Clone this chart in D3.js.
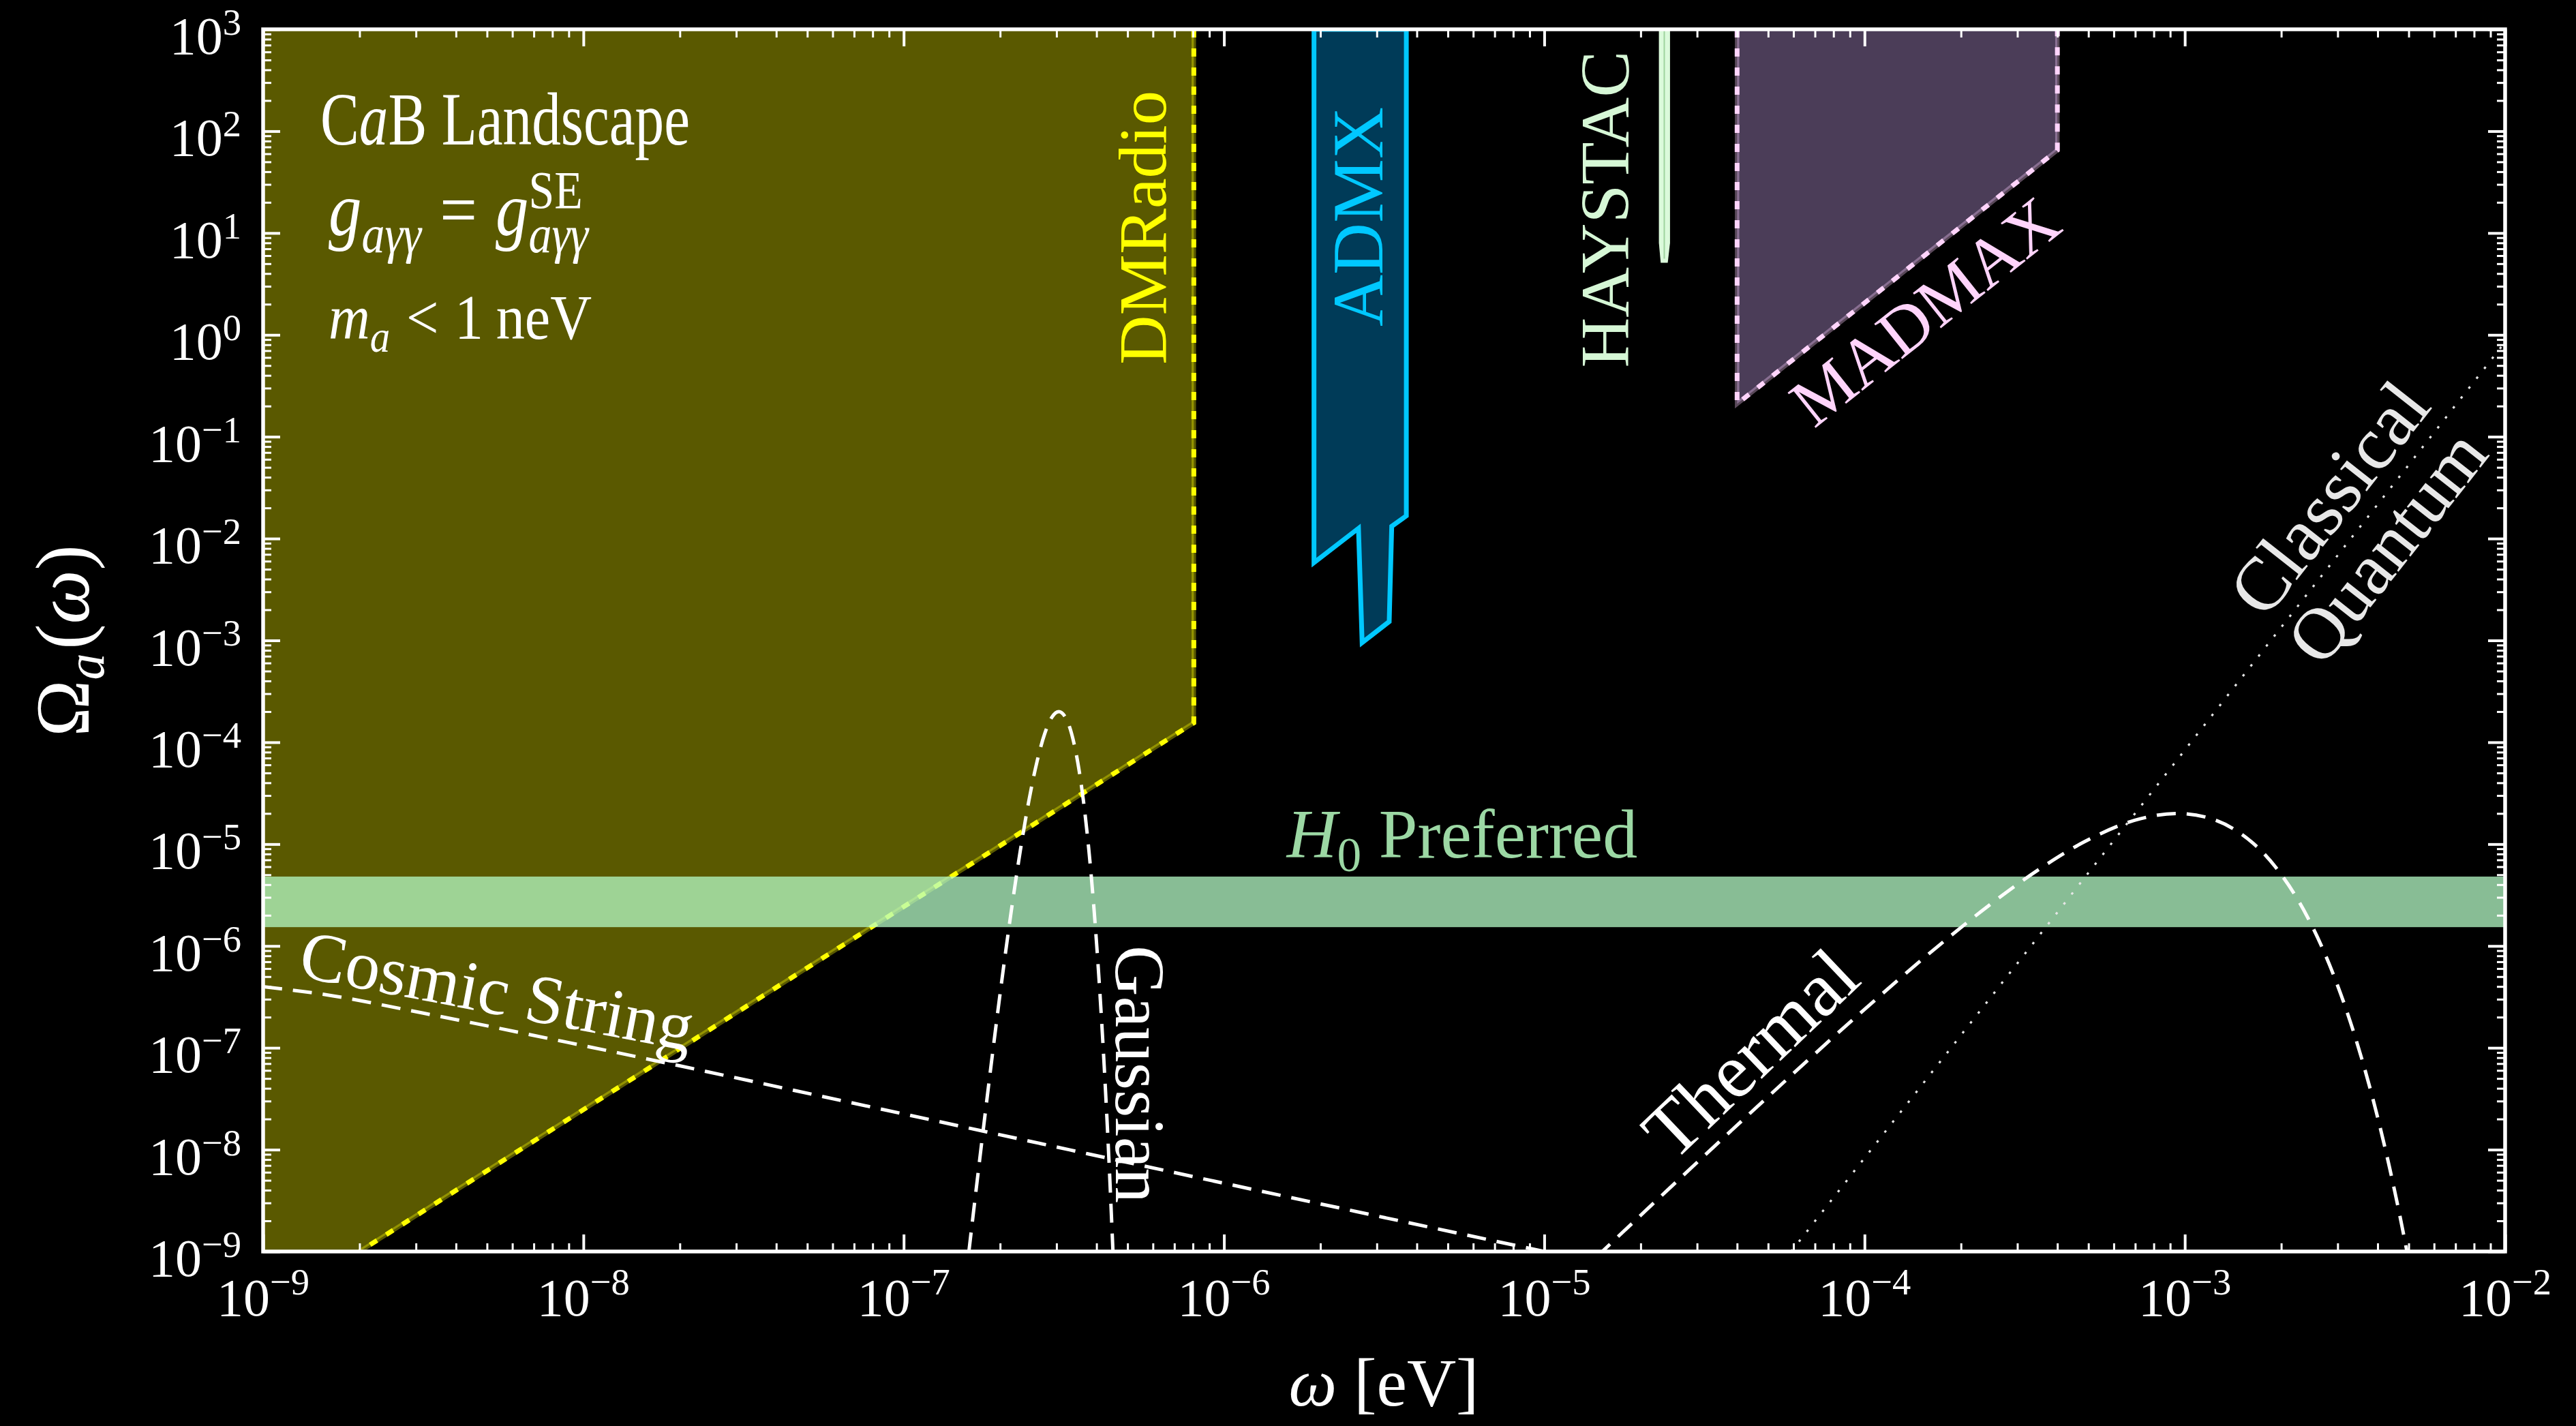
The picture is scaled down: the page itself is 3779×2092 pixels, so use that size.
<!DOCTYPE html>
<html>
<head>
<meta charset="utf-8">
<script src="https://cdn.jsdelivr.net/npm/d3@7"></script>
<style>
  html, body { margin: 0; padding: 0; background: #000; }
  svg { display: block; }
</style>
</head>
<body>
<svg id="chart" width="3779" height="2092"></svg>
<script>
// ---------- data ----------
const xTickValues = [1e-9, 1e-8, 1e-7, 1e-6, 1e-5, 1e-4, 1e-3, 1e-2];
const xTickExponents = ["−9", "−8", "−7", "−6", "−5", "−4", "−3", "−2"];
const yTickValues = [1e-9, 1e-8, 1e-7, 1e-6, 1e-5, 1e-4, 1e-3, 1e-2, 1e-1, 1e0, 1e1, 1e2, 1e3];
const yTickExponents = ["−9", "−8", "−7", "−6", "−5", "−4", "−3", "−2", "−1", "0", "1", "2", "3"];

// experimental reach, [omega (eV), Omega]
const dmRadioRegion = [[1e-9, 1e3], [8.05e-7, 1e3], [8.05e-7, 1.55e-4], [2e-9, 1e-9], [1e-9, 1e-9]];
const dmRadioEdge = [[8.05e-7, 1e3], [8.05e-7, 1.55e-4], [2e-9, 1e-9]];
const admxRegion = [[1.91e-6, 1e3], [1.91e-6, 5.8e-3], [2.63e-6, 1.26e-2], [2.70e-6, 9.5e-4],
                    [3.28e-6, 1.53e-3], [3.34e-6, 1.32e-2], [3.71e-6, 1.67e-2], [3.71e-6, 1e3]];
const haystacRegion = [[2.28e-5, 1e3], [2.28e-5, 8], [2.31e-5, 5.1], [2.43e-5, 5.1], [2.47e-5, 8], [2.47e-5, 1e3]];
const haystacCore = [[2.37e-5, 1e3], [2.37e-5, 5.6]];
const madmaxRegion = [[4e-5, 1e3], [4e-5, 0.21], [4e-4, 65], [4e-4, 1e3]];
const madmaxEdge = [[4e-5, 1e3], [4e-5, 0.21], [4e-4, 65], [4e-4, 1e3]];

// Hubble-tension preferred band
const h0Band = [1.53e-6, 4.8e-6];

// spectra
const cosmicString = [[1e-9, 3.98e-7], [1.58e-9, 3.31e-7], [3.16e-9, 2.19e-7], [1e-8, 1.05e-7],
                      [1e-7, 2.24e-8], [1e-6, 4.68e-9], [1e-5, 1e-9], [1.3e-5, 8.4e-10]];
const gaussianPeak = [[1.598e-7, 1e-9], [1.727e-7, 8.0e-9], [1.874e-7, 6.7e-8], [2.021e-7, 4.38e-7],
                      [2.168e-7, 2.22e-6], [2.315e-7, 8.79e-6], [2.462e-7, 2.71e-5], [2.609e-7, 6.49e-5],
                      [2.756e-7, 1.213e-4], [2.903e-7, 1.765e-4], [3.05e-7, 2.0e-4], [3.197e-7, 1.765e-4],
                      [3.344e-7, 1.213e-4], [3.491e-7, 6.49e-5], [3.638e-7, 2.71e-5], [3.785e-7, 8.79e-6],
                      [3.932e-7, 2.22e-6], [4.079e-7, 4.38e-7], [4.226e-7, 6.7e-8], [4.373e-7, 8.0e-9],
                      [4.502e-7, 1e-9], [4.6e-7, 2e-10]];
const thermalSpectrum = [[1.452e-5, 8.77e-10], [2.42e-5, 3.98e-9], [4.84e-5, 3.02e-8], [9.68e-5, 2.18e-7],
                         [1.694e-4, 9.91e-7], [2.42e-4, 2.435e-6], [3.63e-4, 6.08e-6], [4.84e-4, 1.048e-5],
                         [7.26e-4, 1.775e-5], [9.49e-4, 2.0e-5], [1.21e-3, 1.774e-5], [1.452e-3, 1.348e-5],
                         [1.936e-3, 5.75e-6], [2.42e-3, 1.90e-6], [2.904e-3, 5.33e-7], [3.388e-3, 1.336e-7],
                         [3.872e-3, 3.086e-8], [4.356e-3, 6.69e-9], [4.84e-3, 1.38e-9], [5.082e-3, 6.17e-10]];
const classicalQuantum = [[5.9e-5, 1e-9], [1e-2, 0.85]];

// ---------- frame ----------
const W = 3779, H = 2092;
const plot = { left: 386, right: 3675, top: 43, bottom: 1836 };
const FONT = "'Liberation Serif', 'Times New Roman', serif";

const svg = d3.select("#chart");
svg.append("rect").attr("width", W).attr("height", H).attr("fill", "#000");

const x = d3.scaleLog().domain([1e-9, 1e-2]).range([plot.left, plot.right]);
const y = d3.scaleLog().domain([1e-9, 1e3]).range([plot.bottom, plot.top]);

svg.append("defs").append("clipPath").attr("id", "plotClip")
  .append("rect")
  .attr("x", plot.left).attr("y", plot.top)
  .attr("width", plot.right - plot.left).attr("height", plot.bottom - plot.top);

const layer = svg.append("g").attr("clip-path", "url(#plotClip)");

const poly = d3.line().x(d => x(d[0])).y(d => y(d[1]));
const smooth = d3.line().x(d => x(d[0])).y(d => y(d[1])).curve(d3.curveMonotoneX);

// ---------- regions ----------
layer.append("path").datum(madmaxRegion).attr("d", d => poly(d) + "Z")
  .attr("fill", "#4b3d58");
layer.append("path").datum(admxRegion).attr("d", d => poly(d) + "Z")
  .attr("fill", "#003b58").attr("stroke", "#00c8ff").attr("stroke-width", 7)
  .attr("stroke-linejoin", "miter");
layer.append("path").datum(haystacRegion).attr("d", d => poly(d) + "Z")
  .attr("fill", "#dbfadb");
layer.append("path").datum(haystacCore).attr("d", poly)
  .attr("stroke", "#9fd49f").attr("stroke-width", 2).attr("fill", "none");
layer.append("path").datum(dmRadioRegion).attr("d", d => poly(d) + "Z")
  .attr("fill", "rgb(90,89,0)");

// dotted boundaries
function dottedEdge(data, under, dots) {
  layer.append("path").datum(data).attr("d", poly)
    .attr("fill", "none").attr("stroke", under).attr("stroke-width", 6.5);
  layer.append("path").datum(data).attr("d", poly)
    .attr("fill", "none").attr("stroke", dots).attr("stroke-width", 7)
    .attr("stroke-dasharray", "12,16");
}
dottedEdge(dmRadioEdge, "rgba(255,255,0,0.35)", "#ffff00");
dottedEdge(madmaxEdge, "rgba(255,205,255,0.35)", "#ffd4fb");

// H0 band
layer.append("rect")
  .attr("x", plot.left).attr("width", plot.right - plot.left)
  .attr("y", y(h0Band[1])).attr("height", y(h0Band[0]) - y(h0Band[1]))
  .attr("fill", "rgb(182,252,199)").attr("fill-opacity", 0.75);

// spectra
[cosmicString, gaussianPeak, thermalSpectrum].forEach(s => {
  layer.append("path").datum(s).attr("d", smooth)
    .attr("fill", "none").attr("stroke", "#fff").attr("stroke-width", 5)
    .attr("stroke-dasharray", "28,16");
});
layer.append("path").datum(classicalQuantum).attr("d", poly)
  .attr("fill", "none").attr("stroke", "#e6e6e6").attr("stroke-width", 3.2)
  .attr("stroke-dasharray", "3.5,15");

// ---------- rich text (math-like runs) ----------
function rich(parent, parts, o) {
  const g = parent.append("g");
  function layout(size) {
    g.selectAll("*").remove();
    let end = 0, runStart = 0;
    const nodes = [];
    parts.forEach(p => {
      const fs = size * (p.s || 1);
      const t = g.append("text")
        .attr("font-family", FONT).attr("font-size", fs)
        .attr("font-style", p.it ? "italic" : "normal")
        .attr("fill", o.color).text(p.t);
      const w = t.node().getComputedTextLength();
      const gap = (p.gap || 0) * size;
      let x0;
      if (p.stack) { x0 = runStart + gap; }
      else { x0 = end + gap; runStart = x0; }
      t.attr("x", x0).attr("y", (o.base || 0) * size - (p.up || 0) * size);
      nodes.push(t);
      end = Math.max(end, x0 + w);
    });
    return { end, nodes };
  }
  let r = layout(o.size);
  if (o.fit) r = layout(o.size * o.fit / r.end);
  const shift = o.anchor === "middle" ? -r.end / 2 : o.anchor === "end" ? -r.end : 0;
  r.nodes.forEach(t => t.attr("x", +t.attr("x") + shift));
  return g;
}

function label(cx, cy, rot, parts, o) {
  const g = svg.append("g").attr("transform", `translate(${cx},${cy}) rotate(${rot})`);
  rich(g, parts, Object.assign({ anchor: "middle", base: 0.32, size: 100 }, o));
}

// experiment names
label(1678, 334, -90, [{ t: "DMRadio" }], { color: "#ffff00", fit: 402 });
label(1994, 318, -90, [{ t: "ADMX" }], { color: "#00c8ff", fit: 322 });
label(2356, 307, -90, [{ t: "HAYSTAC" }], { color: "#d6f7d6", fit: 465 });
label(2825, 458, -38.5, [{ t: "MADMAX" }], { color: "#ffd4fb", fit: 470 });

// spectrum names
label(1670, 1576, 90, [{ t: "Gaussian" }], { color: "#fff", fit: 378 });
label(729, 1455, 10.8, [{ t: "Cosmic String" }], { color: "#fff", fit: 585 });
label(2569, 1547, -43.6, [{ t: "Thermal" }], { color: "#fff", fit: 385 });
label(3418, 732, -51.8, [{ t: "Classical" }], { color: "#e8e8e8", fit: 399 });
label(3503, 803, -51.8, [{ t: "Quantum" }], { color: "#e8e8e8", fit: 400 });

// band name
label(2145, 1225, 0, [{ t: "H", it: 1 }, { t: "0", s: 0.7, up: -0.2 }, { t: "Preferred", gap: 0.25 }],
  { color: "#9cd8a4", size: 102 });

// headline block (tall, narrow set)
const head = svg.append("g");
rich(head.append("g").attr("transform", "translate(470,212) scale(1,1.3)"),
  [{ t: "C" }, { t: "a", it: 1 }, { t: "B" }, { t: "Landscape", gap: 0.25 }],
  { color: "#fff", size: 90, fit: 542, anchor: "start" });
rich(head.append("g").attr("transform", "translate(482,345) scale(1,1.15)"),
  [{ t: "g", it: 1 }, { t: "aγγ", it: 1, s: 0.7, up: -0.22 }, { t: "=", gap: 0.28 },
   { t: "g", it: 1, gap: 0.28 }, { t: "aγγ", it: 1, s: 0.7, up: -0.22 }, { t: "SE", s: 0.7, up: 0.36, stack: 1 }],
  { color: "#fff", size: 80, fit: 381, anchor: "start" });
rich(head.append("g").attr("transform", "translate(482,497) scale(1,1.1)"),
  [{ t: "m", it: 1 }, { t: "a", it: 1, s: 0.7, up: -0.2 }, { t: "<", gap: 0.28 },
   { t: "1", gap: 0.28 }, { t: "neV", gap: 0.22 }],
  { color: "#fff", size: 80, fit: 386, anchor: "start" });

// ---------- axes ----------
function minorTicks(e0, e1) {
  const v = [];
  for (let e = e0; e < e1; e++) for (let k = 2; k <= 9; k++) v.push(k * Math.pow(10, e));
  return v;
}
const xMinor = minorTicks(-9, -2);
const yMinor = minorTicks(-9, 3);

function ticks(axis, tr, values, len, width) {
  svg.append("g").attr("transform", tr)
    .call(axis.tickValues(values).tickSizeInner(-len).tickSizeOuter(0).tickFormat(""))
    .call(g => g.select(".domain").remove())
    .call(g => g.selectAll("line").attr("stroke", "#fff").attr("stroke-width", width));
}
ticks(d3.axisBottom(x), `translate(0,${plot.bottom})`, xTickValues, 25, 4);
ticks(d3.axisBottom(x), `translate(0,${plot.bottom})`, xMinor, 12, 3);
ticks(d3.axisTop(x), `translate(0,${plot.top})`, xTickValues, 25, 4);
ticks(d3.axisTop(x), `translate(0,${plot.top})`, xMinor, 12, 3);
ticks(d3.axisLeft(y), `translate(${plot.left},0)`, yTickValues, 25, 4);
ticks(d3.axisLeft(y), `translate(${plot.left},0)`, yMinor, 12, 3);
ticks(d3.axisRight(y), `translate(${plot.right},0)`, yTickValues, 25, 4);
ticks(d3.axisRight(y), `translate(${plot.right},0)`, yMinor, 12, 3);

svg.append("rect")
  .attr("x", plot.left).attr("y", plot.top)
  .attr("width", plot.right - plot.left).attr("height", plot.bottom - plot.top)
  .attr("fill", "none").attr("stroke", "#fff").attr("stroke-width", 5.5);

// tick labels
xTickValues.forEach((v, i) => {
  rich(svg.append("g").attr("transform", `translate(${x(v)},1930)`),
    [{ t: "10" }, { t: xTickExponents[i], s: 0.7, up: 0.4 }],
    { color: "#fff", size: 78, anchor: "middle" });
});
yTickValues.forEach((v, i) => {
  rich(svg.append("g").attr("transform", `translate(354,${y(v) + 36})`),
    [{ t: "10" }, { t: yTickExponents[i], s: 0.7, up: 0.36 }],
    { color: "#fff", size: 78, anchor: "end" });
});

// axis titles
rich(svg.append("g").attr("transform", "translate(2030,2062)"),
  [{ t: "ω", it: 1 }, { t: "[eV]", gap: 0.25 }],
  { color: "#fff", size: 100, anchor: "middle" });
rich(svg.append("g").attr("transform", "translate(130,940) rotate(-90)"),
  [{ t: "Ω" }, { t: "a", it: 1, s: 0.7, up: -0.2 }, { t: "(", gap: 0.05 }, { t: "ω", it: 1 }, { t: ")" }],
  { color: "#fff", size: 112, anchor: "middle" });
</script>
</body>
</html>
